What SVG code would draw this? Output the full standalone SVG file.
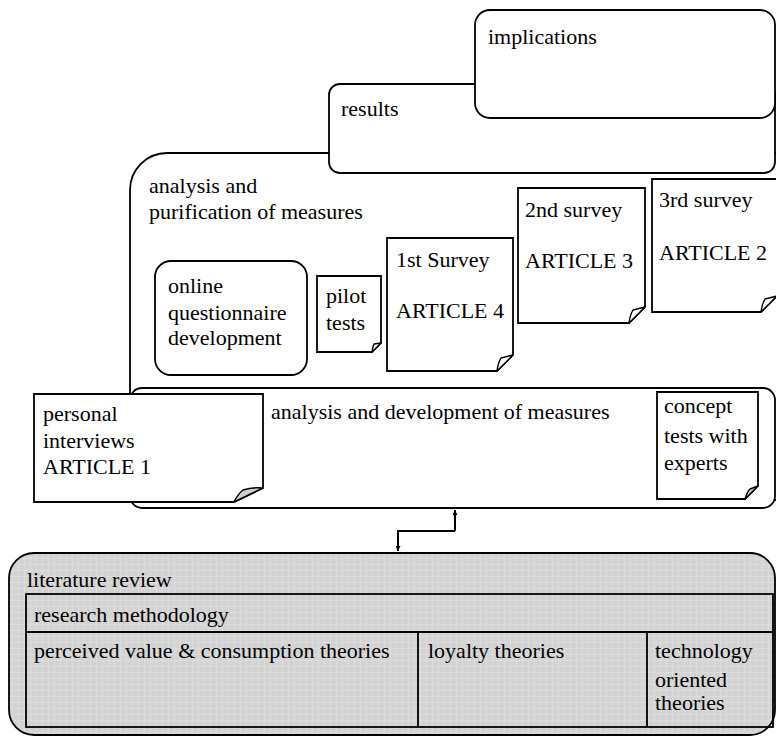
<svg xmlns="http://www.w3.org/2000/svg" width="776" height="738" viewBox="0 0 776 738" font-family="'Liberation Serif', 'Times New Roman', serif">
  <defs>
    <pattern id="grid" width="6" height="6" patternUnits="userSpaceOnUse">
      <rect width="6" height="6" fill="#d3d3d3"/>
      <path d="M0,0.5 H6 M0.5,0 V6" stroke="#dcdcdc" stroke-width="1" fill="none"/>
    </pattern>
    <marker id="tip" viewBox="0 0 10 10" refX="10" refY="5" markerWidth="5" markerHeight="5" orient="auto" markerUnits="userSpaceOnUse">
      <path d="M0,0 L10,5 L0,10 Z" fill="#000"/>
    </marker>
  </defs>
  <style>
    .box { fill: #fff; stroke: #000; stroke-width: 1.8; }
    .flap { fill: #fff; stroke: #000; stroke-width: 1.4; stroke-linejoin: round; }
    .flap.grey { fill: #d0d0d0; }
    .lit { fill: url(#grid); stroke: #000; stroke-width: 1.8; }
    .cell { fill: none; stroke: #000; stroke-width: 1.8; }
    text { font-family: "Liberation Serif", "Times New Roman", serif; font-size: 22px; fill: #000; }
    .conn { fill: none; stroke: #000; stroke-width: 2; }
  </style>

  <!-- analysis and purification of measures (back panel) -->
  <g id="purification">
    <path class="box" d="M130,500 V190 A37,37 0 0 1 167,153 H790 V500 Z"/>
    <text x="149" y="193">analysis and</text>
    <text x="149" y="219">purification of measures</text>
  </g>

  <!-- results -->
  <g id="results">
    <rect class="box" x="329" y="84" width="446" height="89" rx="11"/>
    <text x="341" y="116">results</text>
  </g>

  <!-- implications -->
  <g id="implications">
    <rect class="box" x="475" y="10" width="300" height="108" rx="15"/>
    <text x="488" y="44">implications</text>
  </g>

  <!-- online questionnaire development -->
  <g id="questionnaire">
    <rect class="box" x="155" y="261" width="152" height="114" rx="16"/>
    <text x="168" y="293">online</text>
    <text x="168" y="320">questionnaire</text>
    <text x="168" y="345">development</text>
  </g>

  <!-- pilot tests -->
  <g id="pilot">
    <path class="box" d="M317,276 H381 V343 L372,352 H317 Z"/>
    <path class="flap" d="M372,352 Q373,346 374,344 L381,343 Z"/>
    <text x="326" y="303">pilot</text>
    <text x="326" y="330">tests</text>
  </g>

  <!-- 1st survey -->
  <g id="survey1">
    <path class="box" d="M387,238 H513 V355 L497,371 H387 Z"/>
    <path class="flap" d="M497,371 Q498,363 501,358 L513,355 Z"/>
    <text x="396" y="267">1st Survey</text>
    <text x="396" y="318">ARTICLE 4</text>
  </g>

  <!-- 2nd survey -->
  <g id="survey2">
    <path class="box" d="M518,188 H645 V307 L629,323 H518 Z"/>
    <path class="flap" d="M629,323 Q630,315 633,310 L645,307 Z"/>
    <text x="525" y="217">2nd survey</text>
    <text x="525" y="268">ARTICLE 3</text>
  </g>

  <!-- 3rd survey -->
  <g id="survey3">
    <path class="box" d="M652,179 H777 V296 L761,312 H652 Z"/>
    <path class="flap" d="M761,312 Q762,304 765,299 L777,296 Z"/>
    <text x="659" y="207">3rd survey</text>
    <text x="659" y="260">ARTICLE 2</text>
  </g>

  <!-- analysis and development of measures -->
  <g id="development">
    <rect class="box" x="130" y="388" width="645" height="120" rx="12"/>
    <text x="271" y="419">analysis and development of measures</text>
  </g>

  <!-- personal interviews -->
  <g id="interviews">
    <path class="box" d="M34,394 H263 V488 L234,502 H34 Z"/>
    <path class="flap grey" d="M234,502 Q238,494 243,490 Q252,487 263,488 Z"/>
    <text x="43" y="421">personal</text>
    <text x="43" y="448">interviews</text>
    <text x="43" y="474">ARTICLE 1</text>
  </g>

  <!-- concept tests with experts -->
  <g id="concept">
    <path class="box" d="M657,392 H758 V486 L745,499 H657 Z"/>
    <path class="flap grey" d="M745,499 Q747,492 750,489 L758,486 Z"/>
    <text x="664" y="413">concept</text>
    <text x="664" y="443">tests with</text>
    <text x="664" y="470">experts</text>
  </g>

  <!-- literature review -->
  <g id="literature">
    <rect class="lit" x="9" y="553" width="766" height="182" rx="25"/>
    <text x="27" y="587">literature review</text>
    <rect class="cell" x="26" y="594" width="747" height="133"/>
    <path class="cell" d="M26,632 H773 M418,632 V727 M647,632 V727"/>
    <text x="34" y="622">research methodology</text>
    <text x="34" y="658">perceived value &amp; consumption theories</text>
    <text x="428" y="658">loyalty theories</text>
    <text x="655" y="658">technology</text>
    <text x="655" y="687">oriented</text>
    <text x="655" y="710">theories</text>
  </g>

  <!-- connectors -->
  <g id="connectors">
    <path class="conn" d="M455,531 V510" marker-end="url(#tip)"/>
    <path class="conn" d="M455,531 H398 V551" marker-end="url(#tip)"/>
  </g>
</svg>
